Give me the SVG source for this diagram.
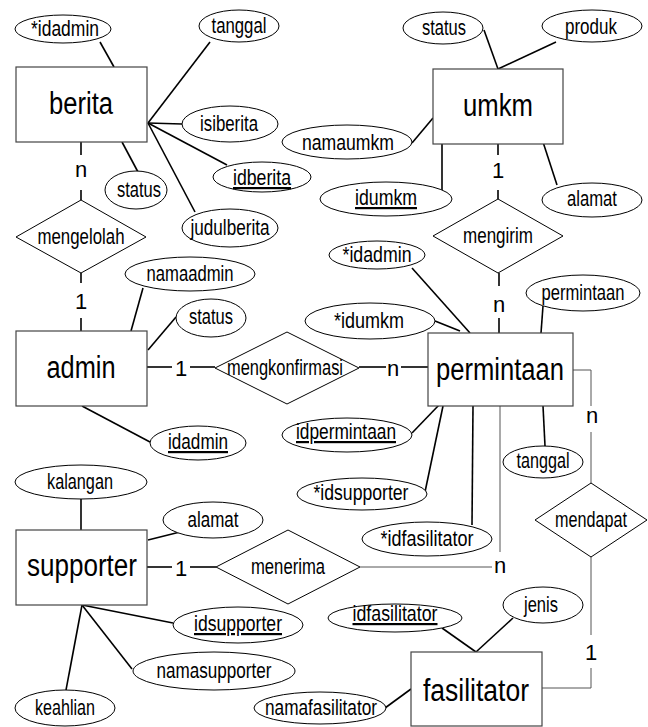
<svg xmlns="http://www.w3.org/2000/svg" width="648" height="727" viewBox="0 0 648 727">
<style>
text{font-family:"Liberation Sans",Arial,sans-serif;text-anchor:middle;fill:#000}
.ent{font-size:31px}
.att{font-size:22px}
.lbl{font-size:22px}
.u{text-decoration:underline}
rect{fill:#fff;stroke:#444;stroke-width:1.2}
ellipse,polygon{fill:#fff;stroke:#000;stroke-width:1}
.a line,.a polyline{stroke:#000;stroke-width:1.6;fill:none}
.r line,.r polyline{stroke:#000;stroke-width:1.6;fill:none}
.r .g{stroke:#555;stroke-width:1}
</style>
<rect width="648" height="727" style="fill:#fff;stroke:none"/>
<g id="connectors">
<g class="a">
<line x1="100" y1="42" x2="114" y2="67"/>
<line x1="210" y1="42" x2="148" y2="123"/>
<line x1="148" y1="123" x2="182" y2="124"/>
<line x1="148" y1="123" x2="227" y2="165"/>
<line x1="148" y1="123" x2="195" y2="212"/>
<line x1="122" y1="142" x2="138" y2="172"/>
<line x1="143" y1="288" x2="131" y2="331"/>
<line x1="176" y1="317" x2="148" y2="350"/>
<line x1="82" y1="406" x2="150" y2="442"/>
<line x1="484" y1="30" x2="498" y2="69"/>
<line x1="556" y1="42" x2="498" y2="69"/>
<line x1="412" y1="143" x2="433" y2="118"/>
<line x1="442" y1="144" x2="442" y2="190"/>
<line x1="543" y1="142" x2="557" y2="185"/>
<line x1="412" y1="268" x2="470" y2="333"/>
<line x1="435" y1="321" x2="460" y2="331"/>
<line x1="543" y1="306" x2="541" y2="333"/>
<line x1="412" y1="433" x2="439" y2="405"/>
<line x1="443" y1="406" x2="425" y2="492"/>
<line x1="473" y1="406" x2="472" y2="525"/>
<line x1="543" y1="406" x2="545" y2="446"/>
<line x1="81" y1="499" x2="81" y2="530"/>
<line x1="148" y1="540" x2="180" y2="532"/>
<line x1="82" y1="605" x2="173" y2="623"/>
<line x1="82" y1="605" x2="132" y2="669"/>
<line x1="82" y1="605" x2="66" y2="690"/>
<line x1="442" y1="628" x2="476" y2="652"/>
<line x1="513" y1="618" x2="476" y2="652"/>
<line x1="385" y1="708" x2="411" y2="689"/>
</g>
<g class="r">
<line x1="81" y1="142" x2="81" y2="155"/>
<line x1="81" y1="190" x2="81" y2="200"/>
<line x1="81" y1="273" x2="81" y2="283"/>
<line x1="81" y1="318" x2="81" y2="331"/>
<line x1="147" y1="367" x2="172" y2="367"/>
<line x1="190" y1="367" x2="215" y2="367"/>
<line x1="359" y1="367" x2="386" y2="367"/>
<line x1="401" y1="367" x2="428" y2="367"/>
<line x1="498" y1="144" x2="498" y2="155"/>
<line x1="498" y1="190" x2="498" y2="199"/>
<line x1="499" y1="273" x2="499" y2="286"/>
<line x1="499" y1="318" x2="499" y2="333"/>
<polyline class="g" points="573,370 591,370 591,406"/>
<line class="g" x1="591" y1="432" x2="591" y2="483"/>
<line class="g" x1="591" y1="557" x2="591" y2="635"/>
<polyline class="g" points="591,668 591,688 542,688"/>
<line x1="147" y1="567" x2="172" y2="567"/>
<line x1="190" y1="567" x2="216" y2="567"/>
<line class="g" x1="360" y1="567" x2="492" y2="567"/>
<line class="g" x1="500" y1="406" x2="500" y2="552"/>
</g>
<g class="lbl">
<text class="lbl" x="81" y="177">n</text>
<text class="lbl" x="81" y="309">1</text>
<text class="lbl" x="181" y="376">1</text>
<text class="lbl" x="393" y="376">n</text>
<text class="lbl" x="498" y="178">1</text>
<text class="lbl" x="499" y="312">n</text>
<text class="lbl" x="592" y="423">n</text>
<text class="lbl" x="591" y="660">1</text>
<text class="lbl" x="181" y="576">1</text>
<text class="lbl" x="500" y="573">n</text>
</g>
</g>
<g id="berita"><rect x="16" y="67" width="131" height="75"/><text class="ent" x="81" y="114" textLength="64" lengthAdjust="spacingAndGlyphs">berita</text></g>
<g id="umkm"><rect x="433" y="69" width="130" height="75"/><text class="ent" x="498" y="116" textLength="70" lengthAdjust="spacingAndGlyphs">umkm</text></g>
<g id="admin"><rect x="16" y="331" width="131" height="75"/><text class="ent" x="81" y="378" textLength="69" lengthAdjust="spacingAndGlyphs">admin</text></g>
<g id="permintaan"><rect x="428" y="333" width="145" height="73"/><text class="ent" x="500" y="380" textLength="128" lengthAdjust="spacingAndGlyphs">permintaan</text></g>
<g id="supporter"><rect x="16" y="530" width="131" height="75"/><text class="ent" x="82" y="576" textLength="110" lengthAdjust="spacingAndGlyphs">supporter</text></g>
<g id="fasilitator"><rect x="411" y="652" width="131" height="74"/><text class="ent" x="476" y="701" textLength="106" lengthAdjust="spacingAndGlyphs">fasilitator</text></g>
<g id="mengelolah"><polygon points="81,200 146,237 81,273 16,237"/><text class="att" x="81" y="244" textLength="87" lengthAdjust="spacingAndGlyphs">mengelolah</text></g>
<g id="mengirim"><polygon points="498,199 563,236 498,273 433,236"/><text class="att" x="498" y="243" textLength="70" lengthAdjust="spacingAndGlyphs">mengirim</text></g>
<g id="mengkonfirmasi"><polygon points="287,332 359,368 287,404 215,368"/><text class="att" x="285" y="375" textLength="116" lengthAdjust="spacingAndGlyphs">mengkonfirmasi</text></g>
<g id="menerima"><polygon points="288,530 360,567 288,604 216,567"/><text class="att" x="288" y="574" textLength="74" lengthAdjust="spacingAndGlyphs">menerima</text></g>
<g id="mendapat"><polygon points="591,483 647,520 591,557 535,520"/><text class="att" x="591" y="527" textLength="72" lengthAdjust="spacingAndGlyphs">mendapat</text></g>
<g id="berita_idadmin"><ellipse cx="63" cy="29" rx="48" ry="14"/><text class="att" x="65" y="36" textLength="68" lengthAdjust="spacingAndGlyphs">*idadmin</text></g>
<g id="berita_tanggal"><ellipse cx="239" cy="26" rx="40" ry="16"/><text class="att" x="239" y="33" textLength="55" lengthAdjust="spacingAndGlyphs">tanggal</text></g>
<g id="isiberita"><ellipse cx="230" cy="124" rx="48" ry="18"/><text class="att" x="229" y="131" textLength="58" lengthAdjust="spacingAndGlyphs">isiberita</text></g>
<g id="idberita"><ellipse cx="262" cy="177" rx="49" ry="15"/><text class="att u" x="262" y="185" textLength="58" lengthAdjust="spacingAndGlyphs">idberita</text></g>
<g id="judulberita"><ellipse cx="230" cy="228" rx="48" ry="19"/><text class="att" x="230" y="235" textLength="79" lengthAdjust="spacingAndGlyphs">judulberita</text></g>
<g id="berita_status"><ellipse cx="136" cy="190" rx="31" ry="19"/><text class="att" x="139" y="197" textLength="44" lengthAdjust="spacingAndGlyphs">status</text></g>
<g id="umkm_status"><ellipse cx="443" cy="28" rx="40" ry="16"/><text class="att" x="444" y="35" textLength="44" lengthAdjust="spacingAndGlyphs">status</text></g>
<g id="produk"><ellipse cx="592" cy="26" rx="50" ry="16"/><text class="att" x="591" y="34" textLength="52" lengthAdjust="spacingAndGlyphs">produk</text></g>
<g id="namaumkm"><ellipse cx="347" cy="142" rx="65" ry="17"/><text class="att" x="348" y="150" textLength="92" lengthAdjust="spacingAndGlyphs">namaumkm</text></g>
<g id="idumkm"><ellipse cx="386" cy="199" rx="66" ry="17"/><text class="att u" x="386" y="205" textLength="62" lengthAdjust="spacingAndGlyphs">idumkm</text></g>
<g id="umkm_alamat"><ellipse cx="592" cy="200" rx="50" ry="17"/><text class="att" x="592" y="206" textLength="50" lengthAdjust="spacingAndGlyphs">alamat</text></g>
<g id="namaadmin"><ellipse cx="190" cy="274" rx="65" ry="17"/><text class="att" x="190" y="281" textLength="87" lengthAdjust="spacingAndGlyphs">namaadmin</text></g>
<g id="admin_status"><ellipse cx="211" cy="318" rx="35" ry="19"/><text class="att" x="211" y="324" textLength="44" lengthAdjust="spacingAndGlyphs">status</text></g>
<g id="idadmin"><ellipse cx="198" cy="443" rx="48" ry="17"/><text class="att u" x="198" y="449" textLength="60" lengthAdjust="spacingAndGlyphs">idadmin</text></g>
<g id="permintaan_idadmin"><ellipse cx="377" cy="255" rx="48" ry="14"/><text class="att" x="377" y="262" textLength="69" lengthAdjust="spacingAndGlyphs">*idadmin</text></g>
<g id="permintaan_idumkm"><ellipse cx="370" cy="321" rx="65" ry="18"/><text class="att" x="369" y="328" textLength="70" lengthAdjust="spacingAndGlyphs">*idumkm</text></g>
<g id="permintaan_attr"><ellipse cx="583" cy="293" rx="57" ry="18"/><text class="att" x="583" y="300" textLength="83" lengthAdjust="spacingAndGlyphs">permintaan</text></g>
<g id="idpermintaan"><ellipse cx="347" cy="435" rx="65" ry="17"/><text class="att u" x="346" y="439" textLength="100" lengthAdjust="spacingAndGlyphs">idpermintaan</text></g>
<g id="permintaan_tanggal"><ellipse cx="543" cy="462" rx="40" ry="16"/><text class="att" x="543" y="468" textLength="53" lengthAdjust="spacingAndGlyphs">tanggal</text></g>
<g id="permintaan_idsupporter"><ellipse cx="362" cy="494" rx="65" ry="16"/><text class="att" x="361" y="500" textLength="95" lengthAdjust="spacingAndGlyphs">*idsupporter</text></g>
<g id="permintaan_idfasilitator"><ellipse cx="427" cy="539" rx="65" ry="17"/><text class="att" x="427" y="546" textLength="93" lengthAdjust="spacingAndGlyphs">*idfasilitator</text></g>
<g id="kalangan"><ellipse cx="81" cy="482" rx="66" ry="17"/><text class="att" x="80" y="489" textLength="66" lengthAdjust="spacingAndGlyphs">kalangan</text></g>
<g id="supporter_alamat"><ellipse cx="213" cy="520" rx="50" ry="18"/><text class="att" x="213" y="527" textLength="51" lengthAdjust="spacingAndGlyphs">alamat</text></g>
<g id="idsupporter"><ellipse cx="238" cy="625" rx="65" ry="18"/><text class="att u" x="238" y="631" textLength="88" lengthAdjust="spacingAndGlyphs">idsupporter</text></g>
<g id="namasupporter"><ellipse cx="214" cy="671" rx="81" ry="19"/><text class="att" x="214" y="678" textLength="115" lengthAdjust="spacingAndGlyphs">namasupporter</text></g>
<g id="keahlian"><ellipse cx="65" cy="708" rx="50" ry="18"/><text class="att" x="65" y="715" textLength="60" lengthAdjust="spacingAndGlyphs">keahlian</text></g>
<g id="idfasilitator"><ellipse cx="395" cy="618" rx="67" ry="14"/><text class="att u" x="395" y="621" textLength="85" lengthAdjust="spacingAndGlyphs">idfasilitator</text></g>
<g id="jenis"><ellipse cx="543" cy="605" rx="40" ry="18"/><text class="att" x="541" y="612" textLength="34" lengthAdjust="spacingAndGlyphs">jenis</text></g>
<g id="namafasilitator"><ellipse cx="320" cy="708" rx="66" ry="16"/><text class="att" x="321" y="715" textLength="112" lengthAdjust="spacingAndGlyphs">namafasilitator</text></g>
</svg>
